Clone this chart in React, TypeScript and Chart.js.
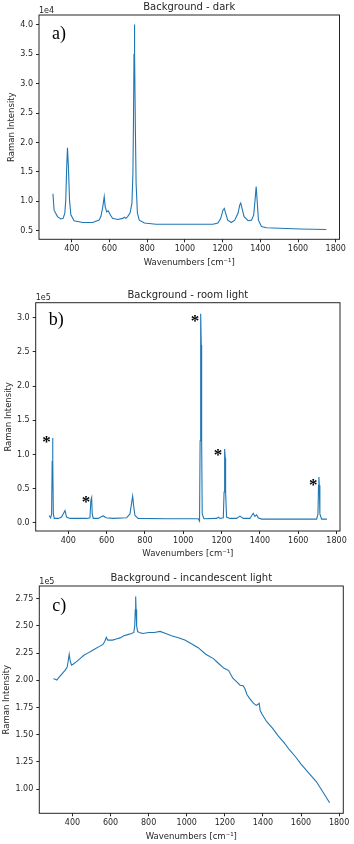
import React, { useEffect, useRef } from "react";
import { Chart, registerables } from "chart.js";

Chart.register(...registerables);

const FONT = "'DejaVu Sans', sans-serif";
const SERIF = "'Liberation Serif', 'DejaVu Serif', serif";
const LINE = "#1f77b4";
const INK = "#262626";
const WIDTH = 354;

// shared x ticks
const xTickValues = [400, 600, 800, 1000, 1200, 1400, 1600, 1800];

// a) Background - dark (×1e4)
const darkWavenumber = [
  300, 306, 324, 341, 354, 363, 368, 373, 377, 382,
  388, 395, 412, 457, 510, 545, 554, 563, 572, 577,
  585, 593, 604, 616, 643, 670, 679, 687, 696, 709,
  719, 724, 727, 730, 732, 734, 737, 741, 748, 758, 785, 847,
  989, 1149, 1175, 1190, 1202, 1209, 1216, 1227, 1246, 1264,
  1282, 1291, 1296, 1303, 1314, 1335, 1353, 1365, 1372, 1378,
  1383, 1390, 1406, 1433, 1610, 1750,
];
const darkIntensity = [
  1.13, 0.85, 0.74, 0.7, 0.71, 0.8, 1.02, 1.59, 1.91, 1.59,
  1.02, 0.77, 0.67, 0.64, 0.64, 0.68, 0.74, 0.88, 1.08, 0.91,
  0.82, 0.84, 0.77, 0.71, 0.69, 0.71, 0.73, 0.71, 0.74, 0.8,
  0.97, 1.45, 2.3, 3.5, 4.01, 3.5, 2.3, 1.31, 0.8, 0.68, 0.63, 0.61,
  0.61, 0.61, 0.63, 0.71, 0.85, 0.88, 0.8, 0.68, 0.64, 0.68,
  0.8, 0.94, 0.97, 0.88, 0.74, 0.67, 0.68, 0.77, 1.02, 1.25,
  1.02, 0.68, 0.57, 0.55, 0.53, 0.52,
];
const darkYTicks = [0.5, 1.0, 1.5, 2.0, 2.5, 3.0, 3.5, 4.0];

// b) Background - room light (×1e5)
const roomWavenumber = [
  300, 308, 313, 316, 318, 320, 322, 327, 348, 365, 383, 391,
  409, 496, 513, 518, 522, 525, 530, 557, 574, 583,
  597, 635, 704, 722, 730, 736, 741, 748, 765, 913,
  1078, 1085, 1088, 1090, 1092, 1094, 1096, 1099, 1108, 1174, 1183, 1191,
  1209, 1213, 1215, 1217, 1219, 1221, 1226, 1243, 1278, 1296, 1313, 1348,
  1365, 1374, 1383, 1391, 1409, 1609, 1696, 1703, 1706, 1708, 1710, 1713,
  1722, 1750,
];
const roomIntensity = [
  0.107, 0.073, 0.13, 0.9, 1.24, 0.9, 0.13, 0.064, 0.064, 0.083, 0.18, 0.083,
  0.064, 0.064, 0.073, 0.33, 0.37, 0.13, 0.064, 0.064, 0.093, 0.1,
  0.073, 0.064, 0.073, 0.13, 0.28, 0.39, 0.25, 0.107, 0.064, 0.059,
  0.059, 0.024, 1.2, 2.6, 3.06, 2.6, 1.2, 0.13, 0.059, 0.064, 0.083, 0.064,
  0.073, 0.45, 0.95, 1.08, 0.95, 0.45, 0.083, 0.064, 0.064, 0.098, 0.064, 0.064,
  0.14, 0.093, 0.117, 0.073, 0.054, 0.054, 0.054, 0.13, 0.55, 0.67, 0.55, 0.13,
  0.054, 0.054,
];
const roomYTicks = [0.0, 0.5, 1.0, 1.5, 2.0, 2.5, 3.0];
const roomStarWavenumber = [287, 492, 1061, 1181, 1678];
const roomStarIntensity = [1.22, 0.35, 3.0, 1.04, 0.6];

// c) Background - incandescent light (×1e5)
const incWavenumber = [
  300, 310, 318, 330, 345, 360, 372, 378, 383, 388,
  395, 405, 420, 440, 460, 480, 500, 520, 540, 560,
  570, 578, 585, 593, 610, 630, 650, 670, 690, 710,
  722, 727, 730, 732, 734, 737, 742, 750, 770, 800, 830, 860,
  890, 920, 960, 990, 1020, 1060, 1100, 1140, 1170, 1196,
  1210, 1220, 1242, 1260, 1280, 1296, 1306, 1316, 1332, 1350,
  1365, 1375, 1380, 1386, 1395, 1420, 1450, 1480, 1510, 1540,
  1570, 1600, 1640, 1680, 1720, 1750,
];
const incIntensity = [
  2.015, 2.01, 2.003, 2.03, 2.06, 2.09, 2.12, 2.18, 2.24, 2.18,
  2.14, 2.15, 2.17, 2.2, 2.23, 2.25, 2.27, 2.29, 2.31, 2.33,
  2.36, 2.395, 2.37, 2.37, 2.37, 2.38, 2.39, 2.41, 2.42, 2.43,
  2.44, 2.5, 2.65, 2.77, 2.65, 2.5, 2.45, 2.44, 2.43, 2.44, 2.44, 2.45,
  2.43, 2.41, 2.39, 2.37, 2.34, 2.3, 2.24, 2.2, 2.15, 2.11,
  2.1, 2.09, 2.02, 1.99, 1.955, 1.95, 1.92, 1.87, 1.83, 1.79,
  1.77, 1.78, 1.79, 1.72, 1.69, 1.62, 1.56, 1.49, 1.43, 1.36,
  1.3, 1.23, 1.15, 1.07, 0.96, 0.875,
];
const incYTicks = [1.0, 1.25, 1.5, 1.75, 2.0, 2.25, 2.5, 2.75];

type PanelSpec = {
  top: number;
  height: number;
  area: { l: number; t: number; r: number; b: number };
  xRange: [number, number];
  yRange: [number, number];
  xs: number[];
  ys: number[];
  yTicks: number[];
  decimals: number;
  title: string;
  titleY: number;
  exponent: string;
  expY: number;
  label: string;
  labelDy: number;
  xTitlePad: number;
  yTitlePad: number;
  starsX?: number[];
  starsY?: number[];
};

const panels: PanelSpec[] = [
  {
    top: 0, height: 272,
    area: { l: 39, t: 15, r: 339.5, b: 239.3 },
    xRange: [226, 1820], yRange: [0.354, 4.17],
    xs: darkWavenumber, ys: darkIntensity, yTicks: darkYTicks, decimals: 1,
    title: "Background - dark", titleY: 7,
    exponent: "1e4", expY: 10.5,
    label: "a)", labelDy: 24,
    xTitlePad: 4.6, yTitlePad: 6.9,
  },
  {
    top: 272, height: 293,
    area: { l: 35.7, t: 30.7, r: 340, b: 259 },
    xRange: [230, 1818], yRange: [-0.12, 3.22],
    xs: roomWavenumber, ys: roomIntensity, yTicks: roomYTicks, decimals: 1,
    title: "Background - room light", titleY: 23,
    exponent: "1e5", expY: 26.3,
    label: "b)", labelDy: 22,
    xTitlePad: 5.9, yTitlePad: 3.2,
    starsX: roomStarWavenumber, starsY: roomStarIntensity,
  },
  {
    top: 565, height: 279,
    area: { l: 39.3, t: 21, r: 343.3, b: 248.3 },
    xRange: [226, 1822], yRange: [0.778, 2.867],
    xs: incWavenumber, ys: incIntensity, yTicks: incYTicks, decimals: 2,
    title: "Background - incandescent light", titleY: 13.3,
    exponent: "1e5", expY: 16.7,
    label: "c)", labelDy: 25,
    xTitlePad: 2.2, yTitlePad: 1.6,
  },
];

function makeDecor(spec: PanelSpec) {
  return {
    id: "decor",
    afterDraw(chart: any) {
      const { ctx, chartArea: a, scales } = chart;
      ctx.save();
      ctx.strokeStyle = INK;
      ctx.lineWidth = 1;
      ctx.strokeRect(a.left, a.top, a.right - a.left, a.bottom - a.top);

      ctx.fillStyle = INK;
      ctx.font = `10px ${FONT}`;
      ctx.textAlign = "center";
      ctx.textBaseline = "middle";
      ctx.fillText(spec.title, (a.left + a.right) / 2, spec.titleY);

      ctx.font = `8px ${FONT}`;
      ctx.textAlign = "left";
      ctx.fillText(spec.exponent, a.left, spec.expY);

      ctx.fillStyle = "#000";
      ctx.font = `18px ${SERIF}`;
      ctx.textBaseline = "alphabetic";
      ctx.fillText(spec.label, a.left + 13, a.top + spec.labelDy);

      if (spec.starsX && spec.starsY) {
        ctx.font = `bold 17px ${SERIF}`;
        ctx.textAlign = "center";
        spec.starsX.forEach((sx, i) => {
          const px = scales.x.getPixelForValue(sx);
          const py = scales.y.getPixelForValue(spec.starsY![i]);
          ctx.fillText("*", px, py + 8);
        });
      }
      ctx.restore();
    },
  };
}

function Panel({ spec }: { spec: PanelSpec }) {
  const ref = useRef<HTMLCanvasElement>(null);
  useEffect(() => {
    const canvas = ref.current;
    if (!canvas) return;
    const tickFont = { family: FONT, size: 8 };
    const titleFont = { family: FONT, size: 8.5 };
    const chart = new Chart(canvas, {
      type: "line",
      data: {
        datasets: [
          {
            data: spec.xs.map((x, i) => ({ x, y: spec.ys[i] })),
            borderColor: LINE,
            borderWidth: 1.1,
            pointRadius: 0,
            tension: 0,
            fill: false,
          },
        ],
      },
      options: {
        animation: false,
        responsive: false,
        devicePixelRatio: 1,
        layout: {
          padding: { left: 0, top: spec.area.t, right: WIDTH - spec.area.r, bottom: 0 },
        },
        plugins: {
          legend: { display: false },
          tooltip: { enabled: false },
          title: { display: false },
        },
        scales: {
          x: {
            type: "linear",
            min: spec.xRange[0],
            max: spec.xRange[1],
            afterBuildTicks: (s: any) => {
              s.ticks = xTickValues.map((v) => ({ value: v }));
            },
            afterFit: (s: any) => {
              s.height = spec.height - spec.area.b;
            },
            grid: { drawOnChartArea: false, drawTicks: true, tickLength: 3, color: INK, lineWidth: 1 },
            border: { display: false },
            ticks: {
              font: tickFont,
              color: INK,
              padding: 2,
              autoSkip: false,
              maxRotation: 0,
              minRotation: 0,
              callback: (v: any) => String(v),
            },
            title: {
              display: true,
              text: "Wavenumbers [cm\u207B\u00B9]",
              font: titleFont,
              color: INK,
              padding: { top: 0, bottom: spec.xTitlePad },
            },
          },
          y: {
            type: "linear",
            min: spec.yRange[0],
            max: spec.yRange[1],
            afterBuildTicks: (s: any) => {
              s.ticks = spec.yTicks.map((v) => ({ value: v }));
            },
            afterFit: (s: any) => {
              s.width = spec.area.l;
            },
            grid: { drawOnChartArea: false, drawTicks: true, tickLength: 3, color: INK, lineWidth: 1 },
            border: { display: false },
            ticks: {
              font: tickFont,
              color: INK,
              padding: 3,
              autoSkip: false,
              callback: (v: any) => Number(v).toFixed(spec.decimals),
            },
            title: {
              display: true,
              text: "Raman Intensity",
              font: titleFont,
              color: INK,
              padding: { top: spec.yTitlePad, bottom: 0 },
            },
          },
        },
      },
      plugins: [makeDecor(spec)],
    } as any);
    return () => chart.destroy();
  }, [spec]);
  return (
    <canvas
      ref={ref}
      width={WIDTH}
      height={spec.height}
      style={{ position: "absolute", left: 0, top: spec.top, width: WIDTH, height: spec.height }}
    />
  );
}

export default function App() {
  return (
    <div style={{ position: "absolute", left: 0, top: 0, width: WIDTH, height: 844, background: "#fff" }}>
      {panels.map((p, i) => (
        <Panel key={i} spec={p} />
      ))}
    </div>
  );
}
